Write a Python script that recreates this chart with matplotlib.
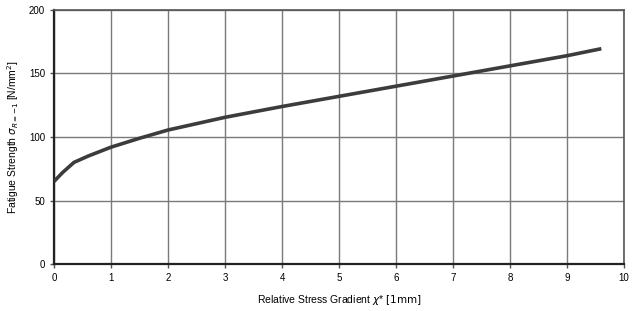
import numpy as np
import matplotlib.pyplot as plt

plt.rcParams['font.family'] = ['Liberation Sans', 'DejaVu Sans']

# curve
gradient = [0.0, 0.15, 0.35, 0.6, 1.0, 1.5, 2.0, 3.0, 4.0, 5.0, 6.0, 7.0, 8.0, 9.0, 9.6]
strength = [65, 72, 80, 85, 92, 99, 105.5, 115.5, 124, 132, 140, 148, 156, 164, 169.5]

fig = plt.figure(figsize=(6.33, 3.11), dpi=100)
ax = fig.add_axes([0.0853, 0.151, 0.9007, 0.817])

ax.plot(gradient, strength, color="#3c3c3c", lw=2.6, solid_capstyle="butt", zorder=3)

ax.set_xlim(0, 10)
ax.set_ylim(0, 200)
ax.set_xticks(range(0, 11))
ax.set_yticks(range(0, 201, 50))
ax.grid(True, color="#7a7a7a", lw=1.0)
ax.tick_params(labelsize=7, length=3, width=1.0, color="#555555")

for side in ["left", "bottom"]:
    ax.spines[side].set_linewidth(1.6)
    ax.spines[side].set_color("#222222")
for side in ["top", "right"]:
    ax.spines[side].set_linewidth(1.2)
    ax.spines[side].set_color("#555555")

ax.set_xlabel(r"Relative Stress Gradient $\chi$* $\mathrm{[1mm]}$", fontsize=7.5, labelpad=7)
ax.set_ylabel(r"Fatigue Strength $\sigma_{R=-1}$ [N/mm$^2$]", fontsize=7.5, labelpad=6)

fig.savefig("out.png", dpi=100)
